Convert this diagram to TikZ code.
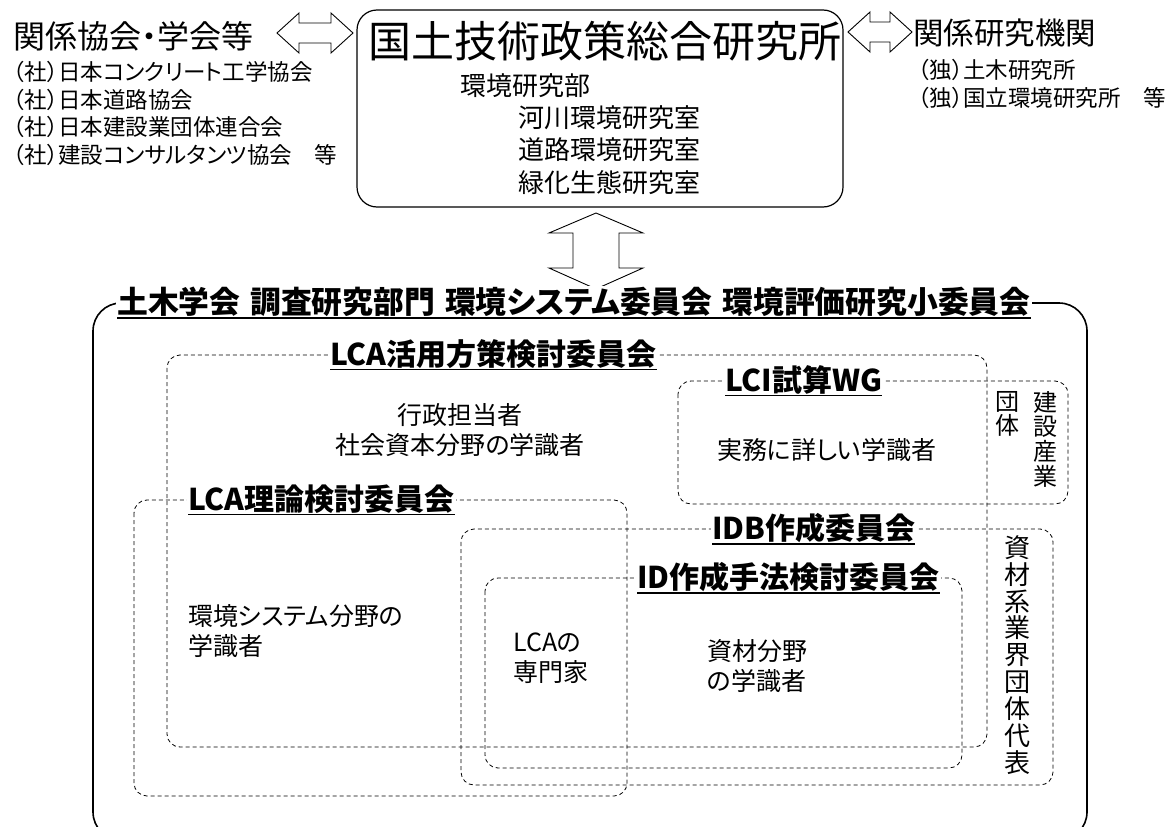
\documentclass[tikz,border=0pt]{standalone}
\usepackage{fontspec}
\setmainfont{Noto Sans CJK JP}[RawFeature=+palt]
\newcommand{\headul}[1]{\setbox0=\hbox{#1}\rlap{\raisebox{-5pt}{\rule{\wd0}{1.8pt}}}\box0}
\newcommand{\hsp}{\hspace{10pt}}
\tikzset{
    txt/.style = {inner sep=0pt, anchor=west, align=left},
    bigtxt/.style = {txt, font=\fontsize{30.5}{36}\selectfont},
    subtxt/.style = {txt, font=\fontsize{22.5}{27}\selectfont},
    roomtxt/.style = {txt, font=\fontsize{26}{31}\selectfont},
    lab/.style = {txt, font=\fontsize{25}{30}\selectfont},
    head/.style = {inner sep=1pt, anchor=west, fill=white, font=\bfseries\fontsize{30}{34}\selectfont},
    dbox/.style = {draw, dash pattern=on 4pt off 3pt, line width=0.8pt, rounded corners=13pt},
    blockarrow/.style = {draw, line width=0.9pt, fill=white, line join=miter},
    vtxt/.style = {inner sep=0pt, align=center}
}
\begin{document}
\begin{tikzpicture}[x=1pt, y=-1pt]
    \useasboundingbox (0,0) rectangle (1170,827);

    % top row
    \draw[line width=1.2pt, rounded corners=20pt] (357,10) rectangle (843,207);
    \node[txt, font=\fontsize{43}{48}\selectfont] (nilim) at (368,41) {国土技術政策総合研究所};
    \node[roomtxt] (dept) at (460,86) {環境研究部};
    \node[roomtxt] (river) at (518,118) {河川環境研究室};
    \node[roomtxt] (road) at (518,150) {道路環境研究室};
    \node[roomtxt] (green) at (518,183) {緑化生態研究室};

    \node[bigtxt, font=\fontsize{32}{36}\selectfont] (assoc) at (13,36) {関係協会・学会等};
    \node[subtxt] (assoc1) at (13,72) {（社）日本コンクリート工学協会};
    \node[subtxt] (assoc2) at (13,100) {（社）日本道路協会};
    \node[subtxt] (assoc3) at (13,127) {（社）日本建設業団体連合会};
    \node[subtxt] (assoc4) at (13,155) {（社）建設コンサルタンツ協会　等};

    \node[bigtxt] (inst) at (913,33) {関係研究機関};
    \node[subtxt] (inst1) at (918,70) {（独）土木研究所};
    \node[subtxt] (inst2) at (918,98) {（独）国立環境研究所　等};

    % block arrows
    \coordinate (ltip) at (277,33);
    \coordinate (rtip) at (848,32);
    \coordinate (vtip) at (596,213);
    \draw[blockarrow] (ltip) -- ++(22,-20) -- ++(0,10) -- ++(32,0) -- ++(0,-10) -- ++(22,20)
        -- ++(-22,20) -- ++(0,-10) -- ++(-32,0) -- ++(0,10) -- cycle;
    \draw[blockarrow] (rtip) -- ++(22,-20) -- ++(0,10) -- ++(20,0) -- ++(0,-10) -- ++(22,20)
        -- ++(-22,20) -- ++(0,-10) -- ++(-20,0) -- ++(0,10) -- cycle;
    \draw[blockarrow] (vtip) -- ++(47,20) -- ++(-24,0) -- ++(0,35) -- ++(24,0) -- ++(-47,21)
        -- ++(-47,-21) -- ++(24,0) -- ++(0,-35) -- ++(-24,0) -- cycle;

    % committee
    \draw[line width=1.6pt, rounded corners=28pt] (93,303) rectangle (1087,840);
    \draw[dbox] (167,355) rectangle (987,747);
    \draw[dbox] (678,381) rectangle (1068,504);
    \draw[dbox] (134,500) rectangle (627,796);
    \draw[dbox] (461,529) rectangle (1053,785);
    \draw[dbox] (485,578) rectangle (962,768);

    \node[head, font=\bfseries\fontsize{30.8}{34}\selectfont] (jsce) at (116,303)
        {\headul{土木学会\hsp 調査研究部門\hsp 環境システム委員会\hsp 環境評価研究小委員会}};
    \node[head] (katsuyo) at (329,355) {\headul{LCA活用方策検討委員会}};
    \node[head] (lci) at (724,381) {\headul{LCI試算WG}};
    \node[head] (riron) at (187,500) {\headul{LCA理論検討委員会}};
    \node[head] (idb) at (711,529) {\headul{IDB作成委員会}};
    \node[head] (idmethod) at (636,578) {\headul{ID作成手法検討委員会}};

    \node[lab, anchor=center, align=center] (gyosei) at (460,430) {行政担当者\\社会資本分野の学識者};
    \node[lab] (jitsumu) at (717,450) {実務に詳しい学識者};
    \node[lab] (kankyo) at (188,631) {環境システム分野の\\学識者};
    \node[lab] (lcaexp) at (513,658) {LCAの\\専門家};
    \node[lab] (shizaiexp) at (707,666) {資材分野\\の学識者};

    \node[vtxt, anchor=north, font=\fontsize{24}{24.7}\selectfont] (kensetsu) at (1045,391) {建\\設\\産\\業};
    \node[vtxt, anchor=north, font=\fontsize{24}{24.7}\selectfont] (dantai) at (1007,391) {団\\体};
    \node[vtxt, font=\fontsize{26}{26.9}\selectfont] (shizai) at (1017,655) {資\\材\\系\\業\\界\\団\\体\\代\\表};
\end{tikzpicture}
\end{document}
